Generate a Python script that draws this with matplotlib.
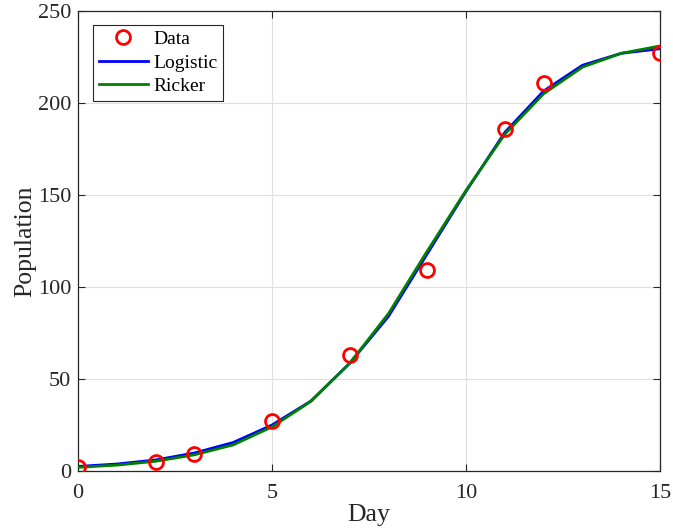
import numpy as np
import matplotlib
matplotlib.use("Agg")
import matplotlib.pyplot as plt

# observed population
data_day = [0, 2, 3, 5, 7, 9, 11, 12, 15]
data_pop = [2, 5, 9, 27, 63, 109, 186, 211, 227]

# fitted models, evaluated each day
model_day = list(range(16))
logistic = [2.5, 3.8, 6, 9.8, 15.5, 25, 38, 58.5, 84, 118, 152, 184, 206.5, 220.5, 227, 229.5]
ricker = [2, 3.2, 5.3, 8.8, 14.2, 24, 37.8, 58.5, 85.5, 119.5, 152.5, 183, 205, 219.5, 227, 231]

plt.rcParams['font.family'] = ['Liberation Serif', 'DejaVu Serif']
plt.rcParams['mathtext.fontset'] = 'stix'

fig = plt.figure(figsize=(6.73, 5.29), dpi=100)
ax = fig.add_axes([0.1159, 0.1096, 0.8648, 0.8696])

ax.plot(data_day, data_pop, 'o', ms=10, mfc='none', mec='#ff0000', mew=2,
        label='Data', zorder=4)
ax.plot(model_day, logistic, color='#0000ff', lw=2, label='Logistic', zorder=3)
ax.plot(model_day, ricker, color='#008000', lw=2, label='Ricker', zorder=3)

ax.set_xlim(0, 15)
ax.set_ylim(0, 250)
ax.set_xticks([0, 5, 10, 15])
ax.set_yticks([0, 50, 100, 150, 200, 250])
ax.grid(True, color='#dfdfdf', lw=0.8)
ax.set_axisbelow(True)

for s in ax.spines.values():
    s.set_color('#262626')
    s.set_linewidth(0.9)
ax.tick_params(direction='in', top=True, right=True, length=5,
               labelsize=16, colors='#262626')
ax.tick_params(axis='x', pad=9)
ax.tick_params(axis='y', pad=5)

ax.set_xlabel('Day', fontsize=18.5, color='#262626', labelpad=1)
ax.set_ylabel('Population', fontsize=18.5, color='#262626', labelpad=1)

leg = ax.legend(loc='upper left', bbox_to_anchor=(0.026, 0.97), fontsize=14,
                fancybox=False, edgecolor='#262626', framealpha=1,
                borderaxespad=0, handlelength=2.5, handletextpad=0.3,
                borderpad=0.3, labelspacing=0.3)
leg.get_frame().set_linewidth(0.8)

fig.savefig('out.png', dpi=100)
